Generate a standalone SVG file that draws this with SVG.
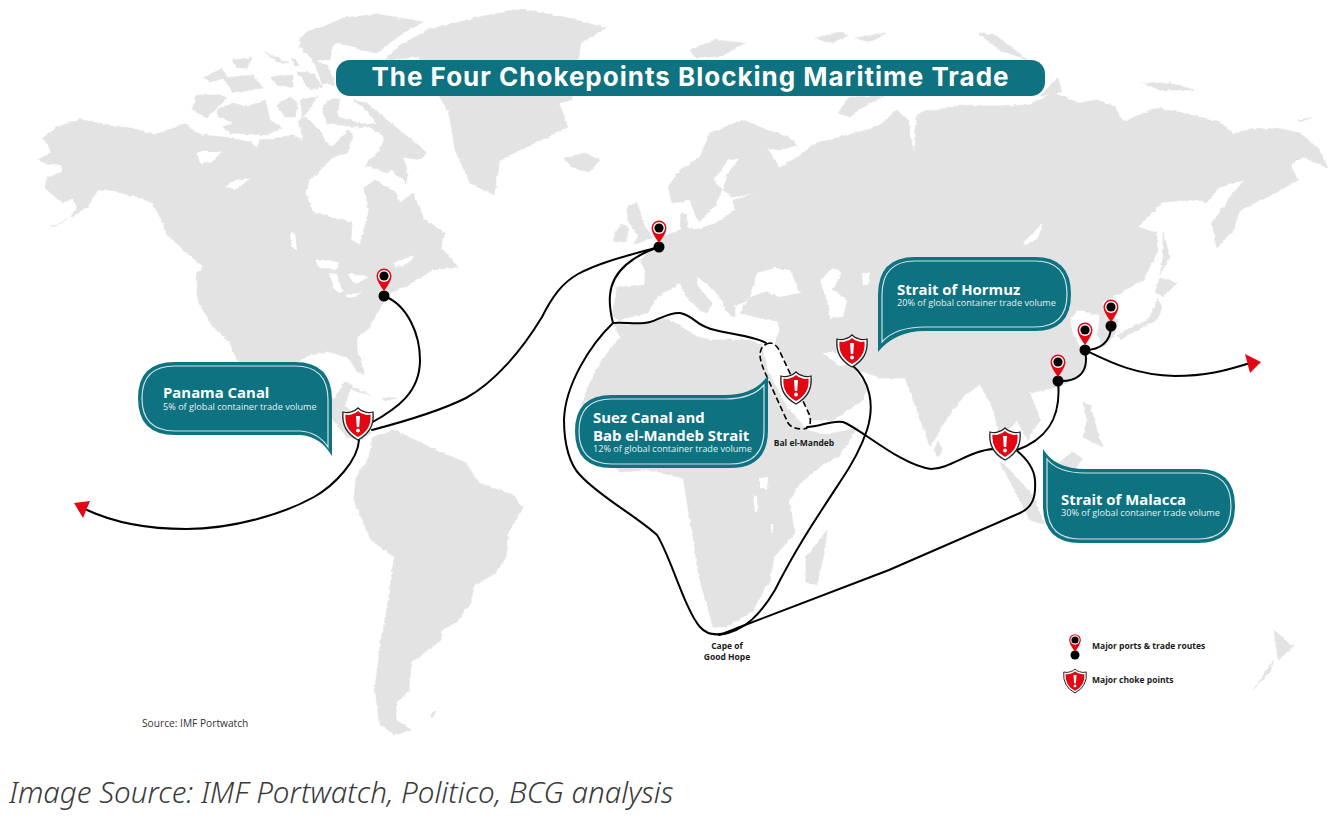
<svg xmlns="http://www.w3.org/2000/svg" xmlns:xlink="http://www.w3.org/1999/xlink" width="1328" height="818" viewBox="0 0 1328 818">
<style>
.land{fill:#e3e3e3;stroke:#e3e3e3;stroke-width:.6;stroke-linejoin:round}
.water{fill:#fff}
.route{fill:none;stroke:#000;stroke-width:2;stroke-linecap:round}
.dash{fill:none;stroke:#000;stroke-width:1.6;stroke-dasharray:6 3}
.arrow{fill:#e30613}
.box{fill:#0e7280}
.inner{fill:none;stroke:#fff;stroke-width:1.2;opacity:.8}
.h{font-family:"Open Sans","Liberation Sans",sans-serif;font-weight:700;font-size:14.9px;fill:#fff}
.s{font-family:"Open Sans","Liberation Sans",sans-serif;font-weight:400;font-size:9.15px;fill:#e6eff0}
.l{font-family:"Open Sans","Liberation Sans",sans-serif;font-weight:700;font-size:8.5px;fill:#1a1a1a}
</style>
<defs>
<filter id="rough" x="0" y="0" width="1" height="1" filterUnits="objectBoundingBox"><feTurbulence type="fractalNoise" baseFrequency=".22" numOctaves="2" seed="4"/><feDisplacementMap in="SourceGraphic" scale="3.500" xChannelSelector="R" yChannelSelector="G"/></filter>
<g id="shield">
<path d="M-15,-12 Q-10,-10.500 -6,-12.500 Q-3,-13 0,-16 Q3,-13 6,-12.500 Q10,-10.500 15,-12 Q17,7 0,16 Q-17,7 -15,-12Z" fill="#fff" stroke="#222" stroke-width="1.300"/>
<path d="M-12.500,-9.500 Q-9,-8.500 -5.500,-10 Q-2.500,-10.500 0,-13 Q2.500,-10.500 5.500,-10 Q9,-8.500 12.500,-9.500 Q14,5.500 0,13 Q-14,5.500 -12.500,-9.500Z" fill="#e30613"/>
<path d="M-2,-8 H2 L1.200,3 H-1.200Z" fill="#fff"/><circle cx="0" cy="6.500" r="1.900" fill="#fff"/>
</g>
<g id="pin">
<path d="M-7.500,0 A7.500,7.500 0 0 1 7.500,0 Q7.500,5 0,15 Q-7.500,5 -7.500,0Z" fill="#e30613"/>
<circle r="6" fill="#fff"/><circle r="4.600" fill="#000"/>
</g>
</defs>
<rect width="1328" height="818" fill="#fff"/>
<g id="map" filter="url(#rough)">
<path class="land" d="M38,160 50,153 63,153 52,152 43,138 57,127 80,119 107,125 130,128 155,135 177,127 185,123 195,132 203,135 223,137 250,142 257,148 260,140 277,138 293,135 303,140 298,120 305,117 322,133 325,142 333,147 347,130 353,133 347,153 333,157 320,170 310,180 305,193 313,212 330,217 352,223 351,240 360,245 364,230 369,210 364,187 375,180 396,193 400,203 413,193 424,220 445,233 441,248 458,267 432,270 409,285 390,293 379,310 367,330 357,337 357,350 365,375 358,372 347,357 330,352 310,355 295,363 300,385 320,400 335,398 345,382 352,385 345,405 362,425 372,433 360,440 347,437 327,413 285,400 237,360 230,343 213,327 197,300 197,273 203,267 182,248 167,235 163,223 153,203 140,198 110,190 98,190 87,207 72,217 50,228 70,218 77,207 73,198 62,203 45,188 47,178 62,172 62,165 50,165Z"/>
<path class="land" d="M479,17 521,9 564,17 606,28 581,43 576,67 572,100 559,103 568,127 500,160 494,195 470,183 455,150 449,113 430,80 419,57 385,60 400,45 428,30Z"/>
<path class="land" d="M300,38 310,30 323,27 343,18 377,14 423,22 403,33 377,53 367,52 347,45 333,43 330,60 313,60 300,47Z"/>
<path class="land" d="M322,110 327,100 340,98 337,117 360,123 363,125 377,123 367,110 353,100 367,103 383,117 403,133 427,152 420,160 403,157 407,170 407,183 390,170 387,173 365,165 380,150 385,137 370,127 357,127 340,125 327,123Z"/>
<path class="land" d="M192,110 197,95 220,95 227,98 207,118Z"/>
<path class="land" d="M217,110 233,103 247,107 257,103 265,100 270,120 282,128 267,135 230,133 223,127 233,122 218,117Z"/>
<path class="land" d="M277,105 290,97 298,103 295,117 285,117Z"/>
<path class="land" d="M300,100 318,96 303,117Z"/>
<path class="land" d="M265,52 288,63 278,62Z"/>
<path class="land" d="M292,57 300,65 295,66Z"/>
<path class="land" d="M232,60 252,58 247,68 237,68Z"/>
<path class="land" d="M203,78 223,68 227,77 210,82Z"/>
<path class="land" d="M223,78 253,75 263,88 233,93Z"/>
<path class="land" d="M270,77 293,75 293,88 277,85Z"/>
<path class="land" d="M297,72 313,73 323,87 310,90Z"/>
<path class="land" d="M313,60 328,66 335,85 322,83Z"/>
<path class="land" d="M564,158 585,153 600,160 589,172 572,167Z"/>
<path class="land" d="M373,437 394,430 436,450 466,463 479,483 513,495 523,508 508,533 506,557 496,573 475,585 470,603 456,623 441,630 441,640 419,657 411,663 409,690 396,703 396,720 411,730 394,735 379,723 375,687 379,657 381,640 388,603 394,557 371,540 354,500 356,477 369,457Z"/>
<path class="land" d="M613,323 637,325 666,318 687,330 697,337 710,340 750,340 762,345 768,372 787,407 807,430 825,435 857,428 840,455 825,463 800,483 789,500 795,533 774,557 770,580 753,610 727,627 713,627 698,573 694,543 685,490 683,478 650,470 620,472 600,455 585,430 581,405 590,383 600,363 620,337Z"/>
<path class="land" d="M617,287 615,300 612,315 618,321 630,317 648,313 657,297 680,283 686,297 700,310 707,313 712,303 697,285 697,277 712,288 722,300 725,310 735,318 735,305 745,302 750,297 740,313 760,318 777,320 780,330 775,342 795,380 810,420 833,420 863,400 867,387 853,368 860,370 880,378 905,378 918,413 930,447 950,413 965,395 980,385 993,407 1000,440 1007,455 1012,455 1008,430 1017,420 1027,440 1040,420 1030,393 1057,387 1075,378 1087,370 1083,350 1073,335 1070,320 1077,310 1100,315 1098,335 1103,347 1113,338 1118,322 1110,310 1102,303 1120,293 1143,280 1157,253 1157,233 1138,227 1163,202 1190,200 1207,202 1220,187 1245,180 1233,193 1212,223 1217,248 1233,230 1240,210 1267,197 1298,180 1290,165 1303,157 1328,168 1320,150 1300,133 1277,128 1267,130 1260,128 1233,133 1220,122 1183,113 1157,108 1123,122 1115,107 1097,100 1080,103 1053,93 1030,105 990,106 960,105 939,110 918,113 915,130 914,152 908,120 897,110 880,125 867,130 816,143 800,155 780,168 767,148 780,150 797,145 790,137 767,130 743,120 710,133 700,157 680,170 668,187 672,203 690,200 697,220 700,222 715,205 722,190 713,180 728,160 740,158 728,173 723,190 732,197 757,193 733,200 735,210 717,223 698,229 688,228 687,215 681,213 680,230 663,237 655,245 640,260 645,270 645,285Z"/>
<path class="water" d="M750,297 757,273 775,268 790,270 800,293 780,297 765,292Z"/>
<path class="water" d="M820,280 833,268 842,273 833,290 847,300 843,317 830,318 827,300Z"/>
<path class="water" d="M862,273 870,273 868,285 863,285Z"/>
<path class="water" d="M823,353 835,352 850,364 840,366Z"/>
<path class="water" d="M1023,243 1043,223 1038,238 1027,245Z"/>
<path class="water" d="M197,152 222,152 212,162 200,163Z"/>
<path class="water" d="M225,187 235,180 250,178 238,189Z"/>
<path class="water" d="M290,232 295,233 297,250 292,248Z"/>
<path class="water" d="M315,260 339,262 337,270 320,268Z"/>
<path class="water" d="M330,273 337,274 343,293 334,290Z"/>
<path class="water" d="M347,273 369,277 355,285Z"/>
<path class="water" d="M345,295 364,292 350,298Z"/>
<path class="water" d="M392,263 415,255 410,262 396,268Z"/>
<path class="land" d="M627,207 637,203 645,227 653,237 633,245 638,237 628,220Z"/>
<path class="land" d="M613,240 620,225 628,227 627,240 617,243Z"/>
<path class="land" d="M1157,298 1162,307 1157,320 1137,330 1120,340 1117,335 1133,327 1148,320 1155,307Z"/>
<path class="land" d="M1160,278 1177,283 1163,297 1155,292Z"/>
<path class="land" d="M1163,232 1170,257 1160,275 1163,257Z"/>
<path class="land" d="M1083,403 1090,405 1097,430 1103,447 1083,437 1087,420Z"/>
<path class="land" d="M1000,462 1010,470 1032,495 1045,525 1030,520Z"/>
<path class="land" d="M1050,470 1072,452 1082,458 1070,480 1055,488Z"/>
<path class="land" d="M938,442 943,450 938,457 934,450Z"/>
<path class="land" d="M827,530 825,550 817,585 806,582 806,557 821,538Z"/>
<path class="water" d="M760,478 768,477 767,490 760,488Z"/>
<path class="water" d="M753,495 757,497 758,512 755,512Z"/>
<path class="water" d="M771,523 774,523 773,534 771,533Z"/>
<path class="land" d="M690,50 715,40 745,43 720,57 695,57Z"/>
<path class="land" d="M978,33 995,35 1028,60 1000,50Z"/>
<path class="land" d="M1143,83 1170,83 1194,90 1160,90Z"/>
<path class="land" d="M1297,120 1310,118 1300,122Z"/>
<path class="land" d="M815,38 840,32 848,36 830,43Z"/>
<path class="land" d="M855,38 886,33 870,42Z"/>
<path class="land" d="M838,113 850,97 884,96 863,107 850,117Z"/>
<path class="land" d="M1040,96 1058,78 1062,92Z"/>
<path class="land" d="M343,382 370,395 355,391Z"/>
<path class="land" d="M383,397 397,398 385,401Z"/>
<path class="land" d="M1274,630 1293,647 1278,660Z"/>
<path class="land" d="M1274,660 1253,690 1270,672Z"/>
<path class="land" d="M430,715 436,712 432,718Z"/>
</g>
<g id="connectors">
<path class="route" d="M384,296 C408,305 420,335 420,360 C420,392 398,408 371,423"/>
<path class="route" d="M372,430 C410,420 440,411 466,398 C495,382 522,350 542,317 C552,297 562,283 578,274 C600,262 630,255 659,247"/>
<path class="route" d="M359,440 C358,460 335,485 314,497 C285,513 235,529 186,529 C150,529 115,523 87,510"/>
<path class="route" d="M659,247 C635,255 612,270 610,295 C609,305 611,315 613,323"/>
<path class="route" d="M613,323 C625,322 640,325 650,322 C660,319 670,312 680,313 C695,316 695,326 715,330 C735,335 755,336 766,343"/>
<path class="route" d="M613,323 C590,345 565,385 564,420 C564,445 570,465 580,475 C600,497 635,515 657,535 C670,555 685,610 700,627 C708,636 720,638 740,627"/>
<path class="route" d="M719,635 C745,632 762,612 775,590 C795,550 815,520 840,482 C855,460 862,445 867,430 C875,405 870,380 852,365"/>
<path class="route" d="M725,633 Q733,630 745,625 L889,570 L1020,513 C1033,507 1036,497 1035,480 C1034,467 1026,458 1016,450"/>
<path class="route" d="M807,427 C820,427 830,420 843,422 C860,428 900,465 931,469 C950,469 970,450 994,449"/>
<path class="route" d="M1017,450 C1045,440 1062,420 1058,381"/>
<path class="route" d="M1058,381 C1075,382 1090,375 1085,350"/>
<path class="route" d="M1085,350 C1100,350 1111,342 1111,326"/>
<path class="route" d="M1085,350 C1110,362 1135,375 1175,376 C1205,376 1225,371 1250,363"/>
<path class="dash" d="M770,343 Q760,345 760,355 Q760,362 767,377 L788,423 Q792,429 803,429 Q812,429 810,416 L780,352 Q776,343 770,343Z"/>
<polygon class="arrow" points="74,503 90,501 83,518"/>
<polygon class="arrow" points="1245,354 1261,362 1250,373"/>
</g>
<g id="title"><rect class="box" x="336" y="60" width="709" height="36" rx="14"/>
<text x="690.500" y="86" text-anchor="middle" font-family="Inter,'Open Sans',sans-serif" font-weight="700" font-size="26" letter-spacing="1" fill="#fff">The Four Chokepoints Blocking Maritime Trade</text></g>
<g id="callout-panama"><path class="box" d="M175,362 H295 Q332,362 332,400 V456 Q320,436 300,435 H175 Q138,435 138,398 Q138,362 175,362Z"/>
<path class="inner" d="M175,366 H295 Q328,366 328,400 V447 Q318,432 300,431 H175 Q142,431 142,398 Q142,366 175,366Z"/>
<text class="h" x="163" y="398">Panama Canal</text><text class="s" x="163" y="410">5% of global container trade volume</text></g>
<g id="callout-suez"><path class="box" d="M612,395 H725 Q755,395 768,375 V430 Q768,468 730,468 H612 Q575,468 575,431 Q575,395 612,395Z"/>
<path class="inner" d="M612,399 H725 Q752,399 764,385 V430 Q764,464 730,464 H612 Q579,464 579,431 Q579,399 612,399Z"/>
<text class="h" x="593" y="423">Suez Canal and</text><text class="h" x="593" y="441">Bab el-Mandeb Strait</text><text class="s" x="593" y="452">12% of global container trade volume</text></g>
<g id="callout-hormuz"><path class="box" d="M878,352 V295 Q878,257 915,257 H1035 Q1071,257 1071,294 Q1071,331 1035,331 H925 Q895,331 878,352Z"/>
<path class="inner" d="M882,342 V295 Q882,261 915,261 H1035 Q1067,261 1067,294 Q1067,327 1035,327 H925 Q895,327 882,342Z"/>
<text class="h" x="897" y="295">Strait of Hormuz</text><text class="s" x="897" y="306">20% of global container trade volume</text></g>
<g id="callout-malacca"><path class="box" d="M1043,449 Q1055,469 1085,469 H1198 Q1235,469 1235,506 Q1235,543 1198,543 H1080 Q1043,543 1043,505Z"/>
<path class="inner" d="M1047,459 Q1058,473 1085,473 H1198 Q1231,473 1231,506 Q1231,539 1198,539 H1080 Q1047,539 1047,505Z"/>
<text class="h" x="1061" y="505">Strait of Malacca</text><text class="s" x="1061" y="516">30% of global container trade volume</text></g>
<g id="port-newyork"><circle cx="384" cy="296" r="5.500"/><use xlink:href="#pin" x="384" y="276"/></g>
<g id="port-europe"><circle cx="659" cy="247" r="5.500"/><use xlink:href="#pin" x="659" y="228"/></g>
<g id="port-china-south"><circle cx="1058" cy="381" r="5.500"/><use xlink:href="#pin" x="1058" y="362"/></g>
<g id="port-china-east"><circle cx="1085" cy="350" r="5.500"/><use xlink:href="#pin" x="1085" y="330"/></g>
<g id="port-korea"><circle cx="1111" cy="326" r="5.500"/><use xlink:href="#pin" x="1111" y="307"/></g>
<g id="choke-panama"><use xlink:href="#shield" x="358" y="424"/></g>
<g id="choke-suez"><use xlink:href="#shield" x="796" y="388"/></g>
<g id="choke-hormuz"><use xlink:href="#shield" x="852" y="351"/></g>
<g id="choke-malacca"><use xlink:href="#shield" x="1005" y="444"/></g>
<g id="labels">
<text class="l" x="804" y="446" text-anchor="middle">Bal el-Mandeb</text>
<text class="l" x="727" y="649" text-anchor="middle">Cape of</text>
<text class="l" x="727" y="660" text-anchor="middle">Good Hope</text>
<text x="142" y="727" font-family="'Open Sans',sans-serif" font-size="10.200" fill="#333">Source: IMF Portwatch</text>
</g>
<g id="legend">
<circle cx="1075" cy="655" r="4.500"/><use xlink:href="#pin" transform="translate(1075 640) scale(.78)"/>
<use xlink:href="#shield" transform="translate(1075 681) scale(.75)"/>
<text class="l" x="1092" y="649">Major ports &amp; trade routes</text>
<text class="l" x="1092" y="683">Major choke points</text>
</g>
<text id="caption" x="9" y="803" font-family="'Noto Sans','Open Sans',sans-serif" font-style="italic" font-weight="300" font-size="29.600" fill="#3a3a3a">Image Source: IMF Portwatch, Politico, BCG analysis</text>
</svg>
